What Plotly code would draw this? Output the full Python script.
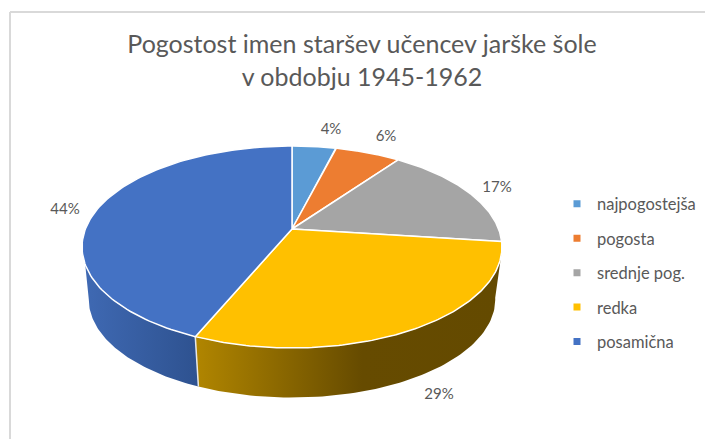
import numpy as np
import plotly.graph_objects as go

# data
categories = ["najpogostejša", "pogosta", "srednje pog.", "redka", "posamična"]
shares = [4.0, 6.0, 17.0, 29.4, 43.6]
colors = ["#5B9BD5", "#ED7D31", "#A5A5A5", "#FFC000", "#4472C4"]
title_lines = ["Pogostost imen staršev učencev jarške šole", "v obdobju 1945-1962"]

# layout constants (pixel space of the 705x439 page)
W, H = 705, 439
CX, TOP_CY, BOT_CY = 292, 229, 282
TOP_RX, TOP_RY, BOT_RX, BOT_RY, PERSP = 206.6, 97.8, 200, 95, 0.178
LABEL_XY = [(331, 130), (386, 137), (497, 188), (439, 395), (65, 210)]
TEXT = "#595959"


def rim(deg, cy, rx, ry):
    t = np.radians(deg)
    u, v = np.sin(t), np.cos(t)
    d = 1 + PERSP * v
    return CX + rx * u / d, cy - ry * v / d


edges = 3.6 * np.concatenate([[0], np.cumsum(shares)])
fig = go.Figure()


def wall(top0, top1, bot0, bot1, grad, start, stop):
    x1, y1 = rim(np.linspace(top0, top1, 80), TOP_CY, TOP_RX, TOP_RY)
    x2, y2 = rim(np.linspace(bot1, bot0, 80), BOT_CY, BOT_RX, BOT_RY)
    fig.add_trace(go.Scatter(
        x=np.r_[x1, x2, x1[0]], y=np.r_[y1, y2, y1[0]], mode="lines", fill="toself",
        line=dict(color="rgba(255,255,255,0)", width=0),
        fillgradient=dict(type="horizontal", colorscale=grad, start=start, stop=stop),
        showlegend=False, hoverinfo="skip"))


# side walls visible at the front: redka and posamična
wall(edges[3] + 6, edges[4], edges[3] + 2, edges[4],
     [[0, "#B08500"], [0.55, "#664B00"], [1, "#644A00"]], 197, 497)
wall(edges[4], 264, edges[4], 260, [[0, "#3F69B3"], [1, "#2E5290"]], 85, 197)
# seam between the two walls
sx0, sy0 = rim(edges[4], TOP_CY, TOP_RX, TOP_RY)
sx1, sy1 = rim(edges[4], BOT_CY, BOT_RX, BOT_RY)
fig.add_trace(go.Scatter(x=[sx0, sx1], y=[sy0, sy1], mode="lines", line=dict(color="#E8E8E8", width=1.5),
                         showlegend=False, hoverinfo="skip"))

# top faces
for i, (name, share, col) in enumerate(zip(categories, shares, colors)):
    t = np.linspace(edges[i], edges[i + 1], 120)
    x, y = rim(t, TOP_CY, TOP_RX, TOP_RY)
    fig.add_trace(go.Scatter(
        x=np.r_[CX, x, CX], y=np.r_[TOP_CY, y, TOP_CY], mode="lines", fill="toself",
        fillcolor=col, line=dict(color="#FFFFFF", width=1.5),
        name=name, showlegend=False, hovertemplate=f"{name}: {share:.0f}%<extra></extra>"))

# legend entries
for name, col in zip(categories, colors):
    fig.add_trace(go.Scatter(x=[None], y=[None], mode="markers", name=name, legendgroup=name,
                             marker=dict(symbol="square", size=7, color=col)))

# percentage labels
fig.add_trace(go.Scatter(
    x=[p[0] for p in LABEL_XY], y=[p[1] for p in LABEL_XY], mode="text",
    text=[f"{s:.0f}%" for s in shares], textposition="middle center",
    textfont=dict(family="Lato", size=15, color=TEXT), showlegend=False, hoverinfo="skip"))

fig.update_layout(
    width=W, height=H, autosize=False,
    margin=dict(l=0, r=0, t=0, b=0),
    paper_bgcolor="white", plot_bgcolor="white",
    xaxis=dict(range=[0, W], visible=False, fixedrange=True),
    yaxis=dict(range=[H, 0], visible=False, fixedrange=True),
    title=dict(text="<br>".join(title_lines), x=362 / W, xanchor="center", y=1 - 32 / H, yanchor="top",
               pad=dict(t=21),
               font=dict(family="Lato", size=25, color=TEXT)),
    legend=dict(x=557 / W, xanchor="left", y=1 - 186.5 / H, yanchor="top", tracegroupgap=10,
                bgcolor="rgba(0,0,0,0)", font=dict(family="Lato", size=16.5, color=TEXT)),
    shapes=[
        dict(type="line", xref="x", yref="y", x0=10, x1=10, y0=12, y1=H, line=dict(color="#D9D9D9", width=2)),
        dict(type="line", xref="x", yref="y", x0=10, x1=W, y0=12, y1=12, line=dict(color="#D9D9D9", width=2)),
    ],
)
fig.write_html("out.html", config={"displayModeBar": False},
               post_script="document.body.style.margin='0';document.body.style.overflow='hidden';")
